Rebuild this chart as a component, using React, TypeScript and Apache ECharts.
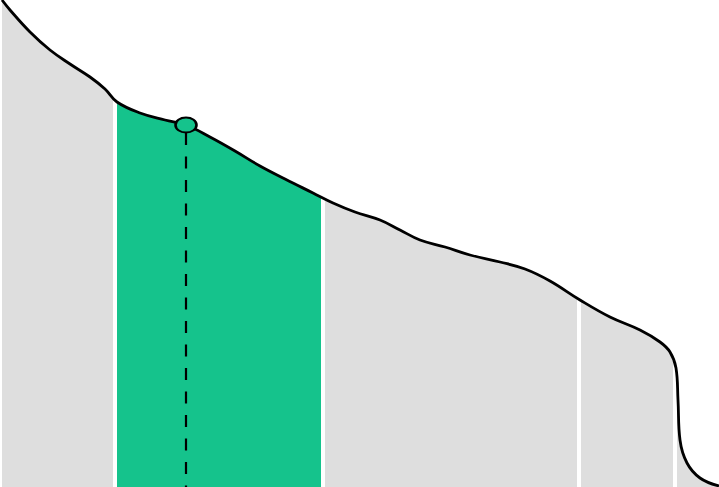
import React, { useRef, useEffect } from "react";
import * as echarts from "echarts";

// curve: x position and height of the density
const xs = [2, 10, 30, 50, 70, 90, 105, 117, 140, 165, 186, 210, 235, 260, 285, 313, 333, 355, 380, 400, 420, 445, 470, 500, 525, 550, 580, 610, 640, 660, 670, 676, 678, 680, 687, 700, 719];
const ys = [487, 477, 455, 437, 423, 410, 398, 385, 374, 367, 362, 350, 336, 321, 308, 294, 284, 275, 267, 257, 247, 240, 232, 225, 218, 206, 187, 170, 157, 145, 135, 119, 87, 47, 24, 9, 1];

// band borders (white gaps) and the highlighted band
const breaks = [115, 323, 579, 675];
const highlightFrom = 115;
const highlightTo = 323;

// marked value on the curve
const markerX = 186;
const markerY = 362;

const GRAY = "#dedede";
const GREEN = "#15c38c";

const App = () => {
  const chartRef = useRef<HTMLDivElement>(null);

  useEffect(() => {
    const chart = echarts.init(chartRef.current, null, { renderer: "svg" });
    const points = xs.map((x, i) => [x, ys[i]]);
    const option = {
      animation: false,
      grid: { left: 0, right: 0, top: 0, bottom: 0 },
      xAxis: { type: "value", min: 0, max: 719, show: false },
      yAxis: { type: "value", min: 0, max: 487, show: false },
      visualMap: {
        type: "piecewise",
        show: false,
        dimension: 0,
        seriesIndex: 0,
        pieces: [
          { lt: highlightFrom, color: GRAY },
          { gte: highlightFrom, lt: highlightTo, color: GREEN },
          { gte: highlightTo, color: GRAY },
        ],
      },
      series: [
        {
          type: "line",
          data: points,
          smooth: 0.4,
          symbol: "none",
          z: 1,
          lineStyle: { width: 0, opacity: 0 },
          areaStyle: { opacity: 1 },
          markLine: {
            silent: true,
            symbol: "none",
            z: 2,
            label: { show: false },
            lineStyle: { color: "#ffffff", width: 4, type: "solid" },
            data: breaks.map((b) => ({ xAxis: b })),
          },
        },
        {
          type: "line",
          data: points,
          smooth: 0.4,
          symbol: "none",
          z: 5,
          lineStyle: { color: "#000000", width: 2.8 },
          markLine: {
            silent: true,
            symbol: "none",
            z: 5,
            label: { show: false },
            lineStyle: { color: "#000000", width: 2.2, type: [12, 11.5] },
            data: [[{ coord: [markerX, markerY - 8] }, { coord: [markerX, 0] }]],
          },
          markPoint: {
            silent: true,
            z: 6,
            symbol: "path://M0 50 A50 50 0 1 1 100 50 A50 50 0 1 1 0 50 Z",
            symbolSize: [21, 15],
            symbolKeepAspect: false,
            label: { show: false },
            itemStyle: { color: GREEN, borderColor: "#000000", borderWidth: 2.2 },
            data: [{ coord: [markerX, markerY] }],
          },
        },
      ],
    };
    chart.setOption(option);
    return () => {
      chart.dispose();
    };
  }, []);

  return (
    <div
      ref={chartRef}
      style={{ position: "fixed", left: 0, top: 0, width: "100vw", height: "100vh" }}
    />
  );
};

export default App;
